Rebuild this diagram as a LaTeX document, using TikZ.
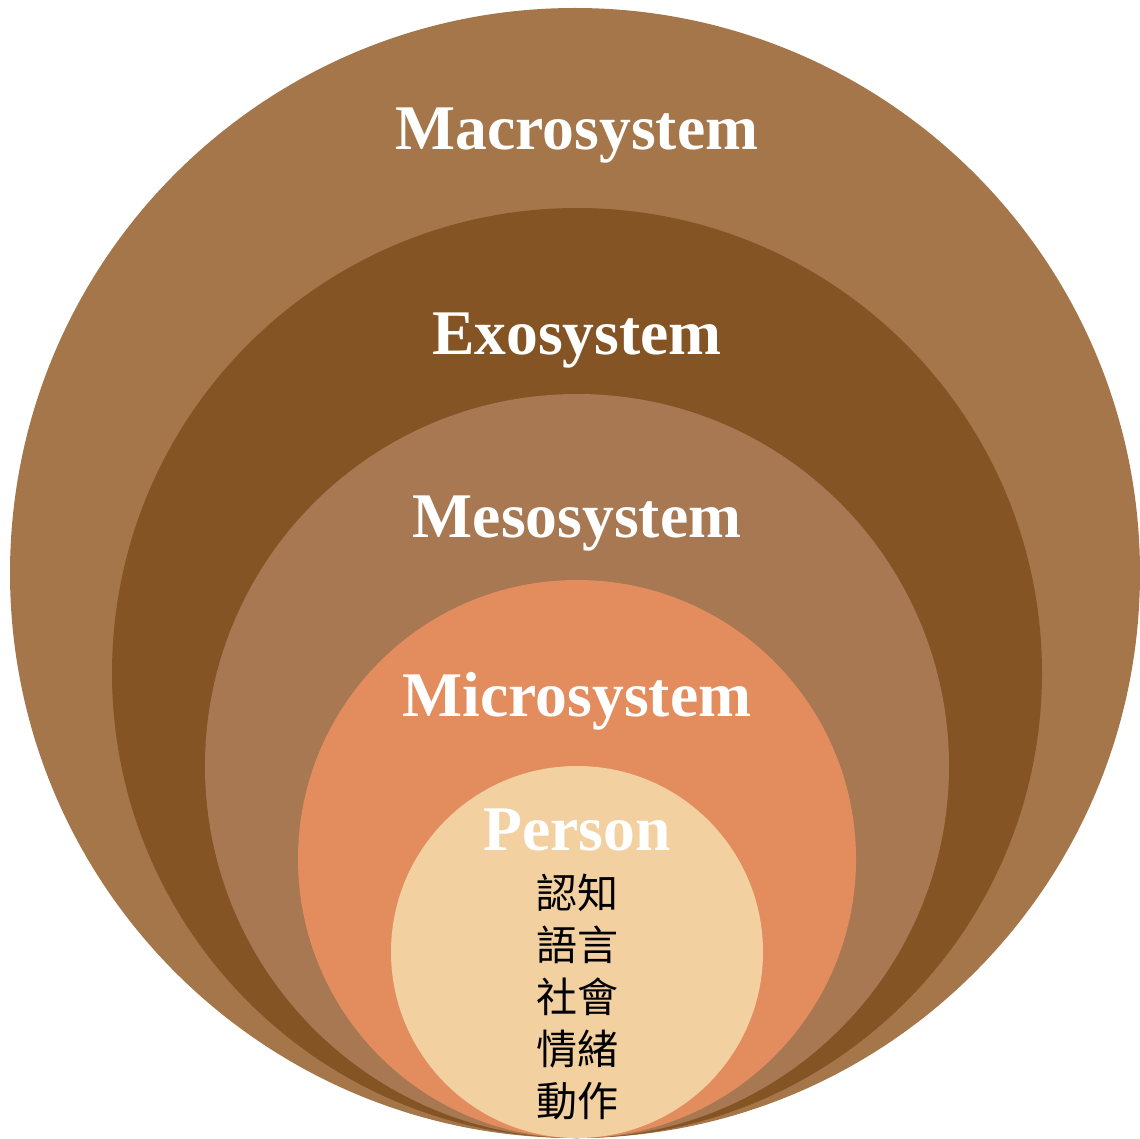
\documentclass[tikz,border=0pt]{standalone}
\usepackage{fontspec}
\setmainfont{Liberation Serif}
\newfontfamily\cjk{Noto Sans CJK TC}
\definecolor{macroc}{HTML}{A57649}
\definecolor{exoc}{HTML}{845424}
\definecolor{mesoc}{HTML}{A77852}
\definecolor{microc}{HTML}{E38D5F}
\definecolor{personc}{HTML}{F2D0A0}
\tikzset{
  syslabel/.style={anchor=base, text=white, font=\fontsize{63.6}{64}\selectfont\bfseries, inner sep=0pt},
  cjklabel/.style={text=black, font=\cjk\fontsize{41}{41}\selectfont, inner sep=0pt}
}
\begin{document}
\begin{tikzpicture}[x=1pt, y=-1pt, line join=round]
\def\ybot{1138}
\useasboundingbox (0,0) rectangle (1140,1139);
% nested circles, all touching at the bottom
\foreach \cx/\r/\col in {575/565/macroc, 577/465/exoc, 577/372/mesoc, 577/279/microc, 577/186/personc}
  \fill[\col] (\cx,\ybot-\r) circle (\r);
\node[syslabel] (macro) at (577,150) {Macrosystem};
\node[syslabel] (exo) at (577,355) {Exosystem};
\node[syslabel] (meso) at (577,537) {Mesosystem};
\node[syslabel] (micro) at (577,716) {Microsystem};
\node[syslabel] (person) at (577,850) {Person};
\foreach \t [count=\i] in {認知, 語言, 社會, 情緒, 動作}
  \node[cjklabel] (domain\i) at (577,841+52*\i) {\t};
\end{tikzpicture}
\end{document}
